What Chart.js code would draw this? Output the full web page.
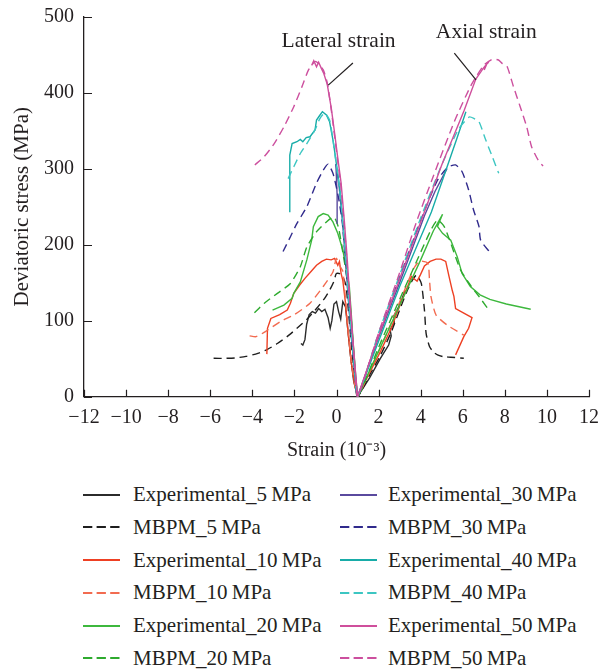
<!DOCTYPE html>
<html>
<head>
<meta charset="utf-8">
<script src="https://cdn.jsdelivr.net/npm/chart.js@4.4.1/dist/chart.umd.min.js"></script>
<style>
  html, body { margin: 0; padding: 0; background: #fff; }
  body { width: 608px; height: 669px; position: relative; overflow: hidden; }
  #chart { position: absolute; left: 0; top: 0; }
  .legend-item {
    position: absolute;
    height: 24px;
    display: flex;
    align-items: center;
    font-family: "Liberation Serif", "Times New Roman", serif;
    font-size: 21px;
    color: #231f20;
    white-space: nowrap;
  }
  .legend-item svg { display: block; }
</style>
</head>
<body>
<canvas id="chart" width="608" height="470"></canvas>
<div id="legend"></div>
<script>
// Strain (10^-3) on x, deviatoric stress (MPa) on y.
// Each series: lateral branch (left, ending at origin) followed by axial branch.
const exp5X = [-1.69, -1.6, -1.5, -1.42, -1.3, -1.15, -1.0, -0.85, -0.7, -0.55, -0.4, -0.3, -0.22, -0.12, 0.0, 0.1, 0.2, 0.3, 0.43, 0.55, 0.68, 0.82, 1.0,
  1.58, 2.08, 2.48, 2.6, 2.55, 2.75, 2.7, 2.95, 3.1, 3.26];
const exp5Y = [70, 68, 75, 95, 108, 112, 110, 116, 112, 115, 104, 90, 100, 122, 125, 112, 102, 125, 118, 85, 50, 20, 0,
  25, 50, 68, 80, 88, 98, 105, 118, 128, 140];

const mbpm5X = [-5.84, -5.3, -4.83, -4.3, -3.74, -3.3, -2.81, -2.35, -1.88, -1.4, -0.95, -0.6, -0.33, -0.12, -0.01, 0.15, 0.3, 0.45, 0.55, 0.7, 0.85, 1.0,
  1.6, 2.1, 2.6, 3.08, 3.4, 3.6, 3.8, 4.03, 4.18, 4.26, 4.42, 4.6, 4.8, 5.1, 5.43, 6.05];
const mbpm5Y = [50.5, 50.5, 51, 53, 57, 62, 70, 79, 90, 102, 116, 128, 140, 152, 162, 162, 158, 146, 118, 70, 30, 0,
  30, 55, 85, 120, 142, 153, 160, 149, 114, 83, 66, 59, 55, 52.5, 52, 50.5];

const exp10X = [-3.31, -3.28, -3.12, -2.7, -2.34, -2.19, -2.03, -1.75, -1.49, -1.2, -0.95, -0.7, -0.48, -0.25, -0.09, 0.06, 0.14, 0.22, 0.3, 0.42, 0.55, 0.7, 0.85, 1.0,
  1.6, 2.1, 2.6, 3.08, 3.35, 3.56, 3.83, 3.98, 4.18, 4.45, 4.73, 4.96, 5.19, 5.35, 5.5, 5.58, 5.66, 6.05, 6.44, 6.28, 6.05, 5.66];
const exp10Y = [56, 90, 103, 108, 114, 123, 136, 147, 156, 165, 173, 178, 181, 180, 182, 173, 178, 162, 153, 125, 85, 45, 18, 0,
  33, 60, 90, 125, 143, 158, 152, 160, 172, 178, 181, 181, 178, 158, 140, 132, 116, 110, 104, 90, 79, 55];

const mbpm10X = [-4.13, -3.82, -3.36, -2.66, -2.03, -1.26, -0.63, -0.17, -0.01, 0.14, 0.3, 0.42, 0.55, 0.7, 0.85, 1.0,
  1.6, 2.1, 2.6, 3.08, 3.5, 3.7, 3.95, 4.34, 4.42, 4.49, 4.73, 5.27, 6.05];
const mbpm10Y = [80, 79, 86, 99, 107.5, 123, 145, 164, 182, 173, 165, 130, 88, 47, 19, 0,
  35, 65, 97, 130, 158, 170, 178.5, 175.5, 153.5, 131.6, 107.5, 94, 81];

const exp20X = [-3.04, -2.5, -2.11, -2.03, -1.72, -1.41, -1.18, -1.1, -0.87, -0.63, -0.4, -0.17, 0.06, 0.3, 0.45, 0.61, 0.7, 0.8, 0.9, 1.0,
  2.0, 3.0, 4.0, 4.6, 5.04, 4.8, 5.04, 5.43, 5.74, 5.97, 6.36, 6.82, 7.29, 8.07, 9.23];
const exp20Y = [114, 120.6, 129.5, 136, 151, 180, 206, 223.7, 237, 241, 239, 230, 215, 193, 171, 145, 110, 68, 32, 0,
  60, 120, 180, 218, 240, 224, 215, 206, 184, 162, 145, 134, 128, 122, 115];

const mbpm20X = [-3.9, -3.43, -2.81, -2.19, -1.72, -1.41, -0.95, -0.48, -0.25, -0.1, 0.1, 0.3, 0.45, 0.6, 0.72, 0.85, 1.0,
  2.0, 3.0, 4.0, 4.5, 4.8, 5.12, 5.43, 5.89, 6.36, 6.9, 7.29];
const mbpm20Y = [110.5, 123, 136, 149, 171, 197, 217, 230, 235, 236, 222, 190, 165, 135, 95, 48, 0,
  65, 128, 190, 220, 232.5, 223.7, 202, 167, 147, 127, 112];

const exp30X = [0.06, 0.03, -0.02, -0.04, 0.03, 0.13, 0.28, 0.42, 0.56, 0.7, 0.85, 1.0,
  2.0, 3.0, 4.18, 4.68, 5.25];
const exp30Y = [228, 265, 300, 306, 296, 275, 232, 182, 132, 82, 38, 0,
  78, 150, 238, 270, 300];

const mbpm30X = [-2.54, -2.19, -1.88, -1.41, -0.95, -0.63, -0.4, -0.17, -0.01, 0.12, 0.28, 0.42, 0.56, 0.7, 0.85, 1.0,
  2.0, 3.0, 4.0, 4.8, 5.3, 5.66, 5.97, 6.28, 6.51, 6.77, 6.85, 7.32];
const mbpm30Y = [191, 210.5, 228, 250, 281, 298, 306, 294, 276, 258, 228, 180, 130, 80, 37, 0,
  82, 157, 232, 285, 302, 305, 296, 272, 246, 224, 206, 189];

const exp40X = [-2.22, -2.22, -2.11, -1.88, -1.72, -1.6, -1.44, -1.26, -1.02, -0.95, -0.8, -0.67, -0.48, -0.33, -0.15, 0.0, 0.15, 0.3, 0.45, 0.58, 0.72, 0.86, 1.0,
  2.0, 3.0, 4.51, 5.2, 5.7, 6.15];
const exp40Y = [242.6, 318, 333, 335.5, 338.6, 335.5, 341, 342, 351, 364, 370, 375, 370.6, 362, 335, 305, 275, 232, 182, 132, 82, 38, 0,
  73, 145, 243, 298, 338, 375];

const mbpm40X = [-2.3, -2.03, -1.72, -1.41, -1.02, -0.79, -0.56, -0.33, -0.18, -0.02, 0.13, 0.28, 0.43, 0.56, 0.7, 0.85, 1.0,
  2.0, 3.0, 4.0, 5.0, 5.8, 6.31, 6.54, 6.77, 7.09, 7.4, 7.71];
const mbpm40Y = [287, 302.6, 320, 333, 351, 366, 373, 364, 340, 308, 278, 235, 185, 135, 85, 40, 0,
  84, 160, 235, 305, 352, 368, 366, 362, 338, 316, 294];

const exp50X = [-1.18, -1.08, -0.95, -0.85, -0.72, -0.6, -0.44, -0.25, -0.09, 0.07, 0.22, 0.37, 0.5, 0.62, 0.75, 0.88, 1.0,
  2.0, 3.0, 4.0, 5.0, 6.07, 6.62, 6.85, 6.97, 7.09, 7.02, 7.15, 7.24];
const exp50Y = [436, 442, 434, 440, 432, 425, 411, 380, 347, 312, 281, 232, 185, 135, 85, 40, 0,
  80, 155, 230, 305, 377, 418, 427, 432, 436, 430, 438, 440];

const mbpm50X = [-3.88, -3.43, -2.96, -2.5, -2.03, -1.64, -1.33, -1.02, -0.87, -0.63, -0.44, -0.27, -0.11, 0.05, 0.2, 0.35, 0.48, 0.6, 0.74, 0.87, 1.0,
  2.0, 3.0, 3.8, 4.6, 5.6, 6.4, 7.0, 7.4, 7.7, 7.87, 8.1, 8.41, 8.73, 9.04, 9.27, 9.59, 9.82];
const mbpm50Y = [305, 316, 333, 355, 381.6, 408, 430, 441, 438.6, 430, 413, 382, 347, 312, 279, 232, 185, 135, 85, 40, 0,
  84, 163, 230, 290, 362, 410, 436, 444, 443, 438.6, 435, 408, 381.6, 355, 329, 311, 303.5];

const seriesLabels = [
  "Experimental_5\u2009MPa", "MBPM_5\u2009MPa",
  "Experimental_10\u2009MPa", "MBPM_10\u2009MPa",
  "Experimental_20\u2009MPa", "MBPM_20\u2009MPa",
  "Experimental_30\u2009MPa", "MBPM_30\u2009MPa",
  "Experimental_40\u2009MPa", "MBPM_40\u2009MPa",
  "Experimental_50\u2009MPa", "MBPM_50\u2009MPa"
];
const seriesX = [exp5X, mbpm5X, exp10X, mbpm10X, exp20X, mbpm20X, exp30X, mbpm30X, exp40X, mbpm40X, exp50X, mbpm50X];
const seriesY = [exp5Y, mbpm5Y, exp10Y, mbpm10Y, exp20Y, mbpm20Y, exp30Y, mbpm30Y, exp40Y, mbpm40Y, exp50Y, mbpm50Y];
const seriesColors = [
  "#2b2b2b", "#1e1e1e",
  "#ee4023", "#f26b50",
  "#3db83d", "#2eaa2e",
  "#5a4a9e", "#302a8c",
  "#18aca8", "#3cc6c2",
  "#cf4f9c", "#cc4f9e"
];
const seriesDashed = [false, true, false, true, false, true, false, true, false, true, false, true];

const xTicks = [-12, 12, 2];
const yTicks = [0, 500, 100];

// annotation text and leader lines, in data units
const notes = [
  { text: "Lateral strain", x: 0.1, y: 467, from: [0.78, 439], to: [-0.39, 410] },
  { text: "Axial strain", x: 7.12, y: 480, from: [5.6, 452], to: [6.63, 417] }
];

const FONT = '"Liberation Serif", "Times New Roman", serif';
const INK = "#231f20";

function toPoints(xs, ys) {
  return xs.map((x, i) => ({ x: x, y: ys[i] }));
}

// ticks pointing inward, as in the original figure
const innerTicks = {
  id: "innerTicks",
  afterDraw(chart) {
    const { ctx, chartArea, scales } = chart;
    ctx.save();
    ctx.strokeStyle = INK;
    ctx.lineWidth = 1.2;
    ctx.beginPath();
    scales.x.ticks.forEach((t) => {
      const px = Math.round(scales.x.getPixelForValue(t.value)) + 0.5;
      ctx.moveTo(px, chartArea.bottom);
      ctx.lineTo(px, chartArea.bottom - 7);
    });
    scales.y.ticks.forEach((t) => {
      const py = Math.round(scales.y.getPixelForValue(t.value)) + 0.5;
      ctx.moveTo(chartArea.left, py);
      ctx.lineTo(chartArea.left + 8, py);
    });
    ctx.stroke();
    ctx.restore();
  }
};

// "Lateral strain" / "Axial strain" labels with leader lines
const notePlugin = {
  id: "notes",
  afterDatasetsDraw(chart) {
    const { ctx, scales } = chart;
    ctx.save();
    ctx.strokeStyle = INK;
    ctx.lineWidth = 1.2;
    ctx.fillStyle = INK;
    ctx.font = "21.5px " + FONT;
    ctx.textAlign = "center";
    ctx.textBaseline = "middle";
    notes.forEach((n) => {
      ctx.beginPath();
      ctx.moveTo(scales.x.getPixelForValue(n.from[0]), scales.y.getPixelForValue(n.from[1]));
      ctx.lineTo(scales.x.getPixelForValue(n.to[0]), scales.y.getPixelForValue(n.to[1]));
      ctx.stroke();
      ctx.fillText(n.text, scales.x.getPixelForValue(n.x), scales.y.getPixelForValue(n.y));
    });
    ctx.restore();
  }
};

const datasets = seriesLabels.map((label, i) => ({
  label: label,
  data: toPoints(seriesX[i], seriesY[i]),
  borderColor: seriesColors[i],
  backgroundColor: seriesColors[i],
  borderWidth: 1.4,
  borderDash: seriesDashed[i] ? [8, 5] : [],
  showLine: true,
  pointRadius: 0,
  tension: seriesDashed[i] ? 0.2 : 0,
  order: seriesLabels.length - i
}));

const ctx = document.getElementById("chart").getContext("2d");
new Chart(ctx, {
  type: "scatter",
  data: { datasets: datasets },
  options: {
    responsive: false,
    animation: false,
    devicePixelRatio: 1,
    layout: { padding: { top: 16.7, right: 11.3, left: 0, bottom: 0 } },
    plugins: {
      legend: { display: false },
      tooltip: { enabled: false }
    },
    scales: {
      x: {
        type: "linear",
        min: xTicks[0],
        max: xTicks[1],
        afterFit: (s) => { s.height = 73.3; },
        border: { display: true, color: INK, width: 1.3 },
        grid: { display: true, drawOnChartArea: false, drawTicks: false },
        ticks: {
          stepSize: xTicks[2],
          padding: 9,
          color: INK,
          font: { family: FONT, size: 20 },
          maxRotation: 0,
          callback: (v) => String(v).replace("-", "\u2212")
        },
        title: {
          display: true,
          text: "Strain (10\u207B\u00B3)",
          color: INK,
          font: { family: FONT, size: 20 },
          padding: { top: 4, bottom: 7 }
        }
      },
      y: {
        type: "linear",
        min: yTicks[0],
        max: yTicks[1],
        afterFit: (s) => {
          s.width = 84;
          s.paddingTop = 0;   // keep the plot top where the figure has it
          s.paddingBottom = 0;
        },
        border: { display: true, color: INK, width: 1.3 },
        grid: { display: true, drawOnChartArea: false, drawTicks: false },
        ticks: {
          stepSize: yTicks[2],
          padding: 10,
          color: INK,
          font: { family: FONT, size: 20 }
        },
        title: {
          display: true,
          text: "Deviatoric stress (MPa)",
          color: INK,
          font: { family: FONT, size: 21 },
          padding: { top: 10, bottom: 4 }
        }
      }
    }
  },
  plugins: [innerTicks, notePlugin]
});

// two-column legend below the chart, filled column by column
const legend = document.getElementById("legend");
seriesLabels.forEach((label, i) => {
  const col = i < 6 ? 0 : 1;
  const row = i % 6;
  const item = document.createElement("div");
  item.className = "legend-item";
  item.style.left = (col === 0 ? 83 : 340) + "px";
  item.style.top = (494.7 + row * 32.7 - 12) + "px";
  const dash = seriesDashed[i] ? 'stroke-dasharray="9.3 4.3"' : "";
  item.innerHTML =
    '<svg width="37" height="4"><line x1="0" y1="2" x2="37" y2="2" stroke="' +
    seriesColors[i] + '" stroke-width="2" ' + dash + "/></svg>" +
    '<span style="margin-left:' + (col === 0 ? 13 : 11) + 'px">' + label + "</span>";
  legend.appendChild(item);
});
</script>
</body>
</html>
